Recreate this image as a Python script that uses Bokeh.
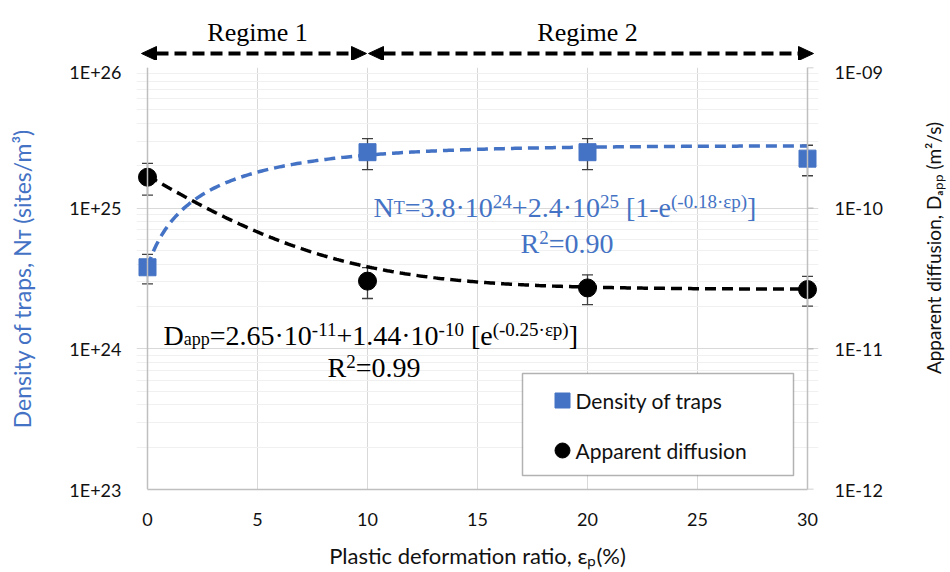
import glob
import math
import numpy as np
from bokeh.plotting import figure
from bokeh.layouts import column, row
from bokeh.models import (Range1d, LinearScale, LogScale, LogAxis, FixedTicker,
                          CustomJSTickFormatter, Whisker, TeeHead, ColumnDataSource,
                          Label, Span, BoxAnnotation)
from bokeh.embed import file_html
from bokeh.resources import INLINE

# ---- measured data -------------------------------------------------------
strain = [0, 10, 20, 30]                              # plastic deformation ratio (%)
traps = [3.8e24, 2.5e25, 2.5e25, 2.25e25]             # density of traps (sites/m3)
traps_err = [0.9e24, 0.62e25, 0.62e25, 0.55e25]
diffusion = [1.66e-10, 3.03e-11, 2.71e-11, 2.64e-11]  # apparent diffusion (m2/s)
diffusion_err = [0.42e-10, 0.75e-11, 0.65e-11, 0.63e-11]

# ---- fitted trends --------------------------------------------------------
nt_a, nt_b, nt_k = 3.8e24, 2.4e25, 0.18
d_a, d_b, d_k = 2.65e-11, 1.44e-10, 0.25

regime_bounds = [0, 10, 30]
regime_names = ["Regime 1", "Regime 2"]

left_ticks = [1e23, 1e24, 1e25, 1e26]
right_ticks = [1e-12, 1e-11, 1e-10, 1e-9]
x_ticks = [0, 5, 10, 15, 20, 25, 30]

legend_labels = ["Density of traps", "Apparent diffusion"]
right_title = "Apparent diffusion, Dₐₚₚ (m²/s)"

BLUE = "#4472C4"
GRID = "#d9d9d9"
MINOR = "#f0f0f0"
AXIS = "#bfbfbf"
INK = "#111111"
SANS = "Lato"
SERIF = "Liberation Serif"

PX_PER_UNIT = 22          # horizontal scale of both panels
X_PAD = 0.5               # room so edge markers are not cut
FRAME_W = int((30 + 2 * X_PAD) * PX_PER_UNIT)
FRAME_H = 422
LEFT_B, RIGHT_B = 136, 132
TOP_H = 60
MAIN_H = FRAME_H + 7 + 83
SIDE_W = 40               # strip holding the right-hand title


def minor_of(ticks):
    out = []
    for t in ticks[:-1]:
        out += [m * t for m in range(2, 10)]
    return out


fmt = CustomJSTickFormatter(code="""
    const e = Math.round(Math.log10(tick));
    const s = String(Math.abs(e)).padStart(2, '0');
    return '1E' + (e < 0 ? '-' : '+') + s;
""")

xr = Range1d(-X_PAD, 30 + X_PAD)

# =================== main panel ==========================================
p = figure(width=950 - SIDE_W, height=MAIN_H, x_range=xr,
           y_range=Range1d(left_ticks[0], left_ticks[-1]), y_axis_type="log",
           output_backend="svg", toolbar_location=None,
           min_border_left=LEFT_B, min_border_right=RIGHT_B - SIDE_W,
           min_border_top=7, min_border_bottom=83)
p.outline_line_color = None

p.extra_y_ranges = {"diff": Range1d(right_ticks[0], right_ticks[-1]),
                    "band": Range1d(0, FRAME_H)}
p.extra_y_scales = {"diff": LogScale(), "band": LinearScale()}
p.extra_x_ranges = {"px": Range1d(0, FRAME_W)}
p.extra_x_scales = {"px": LinearScale()}

lticker = FixedTicker(ticks=left_ticks, minor_ticks=minor_of(left_ticks))
yax = p.yaxis[0]
yax.ticker = lticker
yax.formatter = fmt
p.ygrid[0].ticker = lticker
p.ygrid.grid_line_color = GRID
p.ygrid.minor_grid_line_color = MINOR
p.ygrid.bounds = (0, 30)

xticker = FixedTicker(ticks=x_ticks)
xax = p.xaxis[0]
xax.ticker = xticker
xax.bounds = (0, 30)
p.xgrid[0].ticker = xticker
p.xgrid.grid_line_color = GRID

for ax in (xax, yax):
    ax.major_tick_line_color = None
    ax.minor_tick_line_color = None
    ax.major_label_text_font = SANS
    ax.major_label_text_font_size = "18px"
    ax.major_label_text_color = INK
    ax.axis_label_text_font = SANS
    ax.axis_label_text_font_size = "22px"
    ax.axis_label_text_font_style = "normal"

xax.axis_line_color = AXIS
xax.axis_line_width = 1.5
xax.axis_label = "Plastic deformation ratio, εₚ(%)"
xax.major_label_standoff = 17
xax.axis_label_standoff = 13
xax.axis_label_text_color = INK

yax.axis_line_color = None
yax.axis_label = "Density of traps, Nᴛ (sites/m³)"
yax.axis_label_text_color = BLUE
yax.axis_label_text_font_size = "23px"
yax.major_label_standoff = 9
yax.axis_label_standoff = 30

rax = LogAxis(y_range_name="diff",
              ticker=FixedTicker(ticks=right_ticks, minor_ticks=[]),
              formatter=fmt)
rax.axis_line_color = None
rax.major_tick_line_color = None
rax.minor_tick_line_color = None
rax.major_label_text_font = SANS
rax.major_label_text_font_size = "18px"
rax.major_label_text_color = INK
rax.major_label_standoff = 10
p.add_layout(rax, "right")

# plot-area border lines at x = 0 and x = 30, outward ticks on the right
for edge in (0, 30):
    p.add_layout(Span(location=edge, dimension="height", line_color=AXIS,
                      line_width=1.5))
p.segment(x0=[30] * len(right_ticks), x1=[30 + 6 / PX_PER_UNIT] * len(right_ticks),
          y0=right_ticks, y1=right_ticks, y_range_name="diff",
          line_color=AXIS, line_width=1.5)

# ---- trend curves -------------------------------------------------------
xs = np.linspace(0, 30, 301)
p.line(xs, nt_a + nt_b * (1 - np.exp(-nt_k * xs)), line_color=BLUE,
       line_width=3.5, line_dash="11 6")
p.line(xs, d_a + d_b * np.exp(-d_k * xs), line_color="black",
       line_width=3.5, line_dash="11 6", y_range_name="diff")

# ---- error bars ---------------------------------------------------------
src_t = ColumnDataSource(dict(
    x=strain, y=traps,
    lo=[v - e for v, e in zip(traps, traps_err)],
    hi=[v + e for v, e in zip(traps, traps_err)]))
src_d = ColumnDataSource(dict(
    x=strain, y=diffusion,
    lo=[v - e for v, e in zip(diffusion, diffusion_err)],
    hi=[v + e for v, e in zip(diffusion, diffusion_err)]))

for src, rng in ((src_t, "default"), (src_d, "diff")):
    p.add_layout(Whisker(
        source=src, base="x", lower="lo", upper="hi",
        dimension="height", y_range_name=rng,
        line_color="#404040", line_width=1.3,
        upper_head=TeeHead(size=11, line_color="#404040", line_width=1.3),
        lower_head=TeeHead(size=11, line_color="#404040", line_width=1.3)))

# ---- markers ------------------------------------------------------------
p.scatter("x", "y", source=src_t, marker="square", size=17,
          fill_color=BLUE, line_color=BLUE)
p.scatter("x", "y", source=src_d, marker="circle", size=18,
          fill_color="black", line_color="black", y_range_name="diff")

# ---- fit equations (runs of normal / super- / subscript text) ------------
SERIF_W = {".": .25, "·": .25, "+": .564, "=": .564, "-": .333, "[": .333,
           "]": .333, "(": .333, ")": .333, " ": .25, "e": .444, "p": .5,
           "a": .444, "N": .722, "T": .611, "D": .722, "R": .667, "ε": .44}
RUN_STYLE = {"base": (28, 0), "sup": (19, 6), "sub": (18, -3), "low": (18, 0)}

_font_files = (glob.glob("/usr/share/fonts/**/LiberationSerif-Regular.ttf", recursive=True)
               + glob.glob("/usr/local/share/fonts/**/LiberationSerif-Regular.ttf",
                           recursive=True))
_font_cache = {}


def text_width(s, size):
    if _font_files:
        try:
            from PIL import ImageFont
            if size not in _font_cache:
                _font_cache[size] = ImageFont.truetype(_font_files[0], size)
            return _font_cache[size].getlength(s)
        except Exception:
            pass
    return sum(SERIF_W.get(c, 0.5) for c in s) * size


def draw_runs(runs, x, y, color):
    for txt, kind in runs:
        size, dy = RUN_STYLE[kind]
        lead = len(txt) - len(txt.lstrip(" "))
        x += SERIF_W[" "] * size * lead
        txt = txt.lstrip(" ")
        p.add_layout(Label(x=x, y=y + dy, text=txt, text_color=color,
                           text_font=SERIF, text_font_size=f"{size}px",
                           text_align="left", text_baseline="alphabetic",
                           x_range_name="px", y_range_name="band"))
        x += text_width(txt, size)


draw_runs([("N", "base"), ("T", "low"), ("=3.8·10", "base"), ("24", "sup"),
           ("+2.4·10", "base"), ("25", "sup"), (" [1-e", "base"),
           ("(-0.18·εp)", "sup"), ("]", "base")], 237, 282, BLUE)
draw_runs([("R", "base"), ("2", "sup"), ("=0.90", "base")], 384, 246, BLUE)
draw_runs([("D", "base"), ("app", "sub"), ("=2.65·10", "base"), ("-11", "sup"),
           ("+1.44·10", "base"), ("-10", "sup"), (" [e", "base"),
           ("(-0.25·εp)", "sup"), ("]", "base")], 27, 154, "black")
draw_runs([("R", "base"), ("2", "sup"), ("=0.99", "base")], 191, 122, "black")

# ---- legend box (frame pixel coordinates) --------------------------------
p.add_layout(BoxAnnotation(left=386, right=657, bottom=14, top=116,
                           x_range_name="px", y_range_name="band",
                           fill_color="white", fill_alpha=1.0,
                           line_color="black", line_width=1.5, level="underlay"))
key_y = [89, 39]
p.scatter(x=[426], y=[key_y[0]], marker="square", size=15, fill_color=BLUE,
          line_color=BLUE, x_range_name="px", y_range_name="band")
p.scatter(x=[426], y=[key_y[1]], marker="circle", size=15, fill_color="black",
          line_color="black", x_range_name="px", y_range_name="band")
for lbl, ky in zip(legend_labels, key_y):
    p.add_layout(Label(x=439, y=ky, text=lbl, text_font=SANS, text_font_size="21px",
                       text_color=INK, text_align="left", text_baseline="middle",
                       x_range_name="px", y_range_name="band"))

# =================== right-hand title strip ==============================
side = figure(width=SIDE_W, height=MAIN_H, x_range=Range1d(0, SIDE_W),
              y_range=Range1d(0, MAIN_H), output_backend="svg",
              toolbar_location=None, x_axis_location=None, y_axis_location=None,
              min_border_left=0, min_border_right=0, min_border_top=0,
              min_border_bottom=0)
side.outline_line_color = None
side.grid.visible = False
side.add_layout(Label(x=23, y=MAIN_H - 219, text=right_title, angle=math.pi / 2,
                      text_font=SANS, text_font_size="19px", text_color=INK,
                      text_align="center", text_baseline="middle"))

# =================== regime strip above the plot ==========================
top = figure(width=950, height=TOP_H, x_range=xr, y_range=Range1d(0, TOP_H),
             output_backend="svg", toolbar_location=None,
             x_axis_location=None, y_axis_location=None,
             min_border_left=LEFT_B, min_border_right=RIGHT_B,
             min_border_top=0, min_border_bottom=0)
top.outline_line_color = None
top.grid.visible = False

ARROW_Y = 7          # px above strip bottom
HEAD_L, HEAD_HW = 15, 7
u = 1 / PX_PER_UNIT
for i, name in enumerate(regime_names):
    b0, b1 = regime_bounds[i], regime_bounds[i + 1]
    x_left = b0 - (6 if i == 0 else -1) * u
    x_right = b1 + (6 if i == len(regime_names) - 1 else -1) * u
    top.segment(x0=[x_left + HEAD_L * u], x1=[x_right - HEAD_L * u],
                y0=[ARROW_Y], y1=[ARROW_Y], line_color="black", line_width=4,
                line_dash="12 6")
    top.patches(xs=[[x_left, x_left + HEAD_L * u, x_left + HEAD_L * u],
                    [x_right, x_right - HEAD_L * u, x_right - HEAD_L * u]],
                ys=[[ARROW_Y, ARROW_Y + HEAD_HW, ARROW_Y - HEAD_HW]] * 2,
                fill_color="black", line_color="black")
    top.add_layout(Label(x=(b0 + b1) / 2, y=28, text=name, text_font=SERIF,
                         text_font_size="26px", text_align="center",
                         text_baseline="alphabetic", text_color="black"))

open("out.html", "w").write(file_html(column(top, row(p, side)), INLINE))
